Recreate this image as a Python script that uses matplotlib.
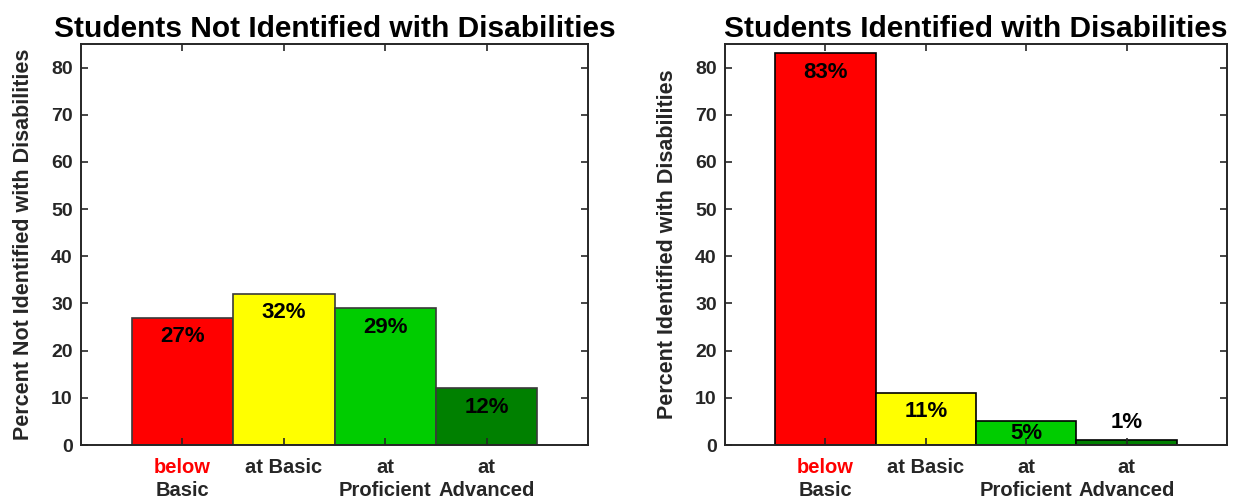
import matplotlib
matplotlib.use("Agg")
import matplotlib.pyplot as plt

plt.rcParams['font.family'] = ['Liberation Sans', 'DejaVu Sans']
plt.rcParams['font.weight'] = 'bold'

# data
categories = ['below Basic', 'at Basic', 'at Proficient', 'at Advanced']
line1 = ['below', 'at Basic', 'at', 'at']
line2 = ['Basic', '', 'Proficient', 'Advanced']
not_disabled = [27, 32, 29, 12]
disabled = [83, 11, 5, 1]
bar_colors = ['#ff0000', '#ffff00', '#00cc00', '#008000']

TXT = '#262626'


def label_y(v):
    # where the percent label sits relative to the bar
    if v >= 10:
        return v - 4
    if v >= 3:
        return v / 2
    return v + 3.7


def draw(ax, values, title, ylabel, edge):
    x = range(1, len(values) + 1)
    ax.bar(x, values, width=1.0, color=bar_colors, edgecolor=edge, linewidth=1.2)
    for xi, v in zip(x, values):
        ax.text(xi, label_y(v), '%d%%' % v, ha='center', va='center',
                fontsize=16, fontweight='bold', color='black')
    ax.set_xlim(0, 5)
    ax.set_ylim(0, 85)
    ax.set_yticks(range(0, 81, 10))
    ax.set_xticks(list(x))
    ax.set_xticklabels([])
    ax.tick_params(direction='in', top=True, right=True, length=5, width=1.2,
                   labelsize=14, colors=TXT, pad=6)
    for lab in ax.get_yticklabels():
        lab.set_fontweight('bold')
    for s in ax.spines.values():
        s.set_linewidth(1.4)
        s.set_color('#262626')
    tr = ax.get_xaxis_transform()
    for i, xi in enumerate(x):
        c = 'red' if i == 0 else TXT
        ax.text(xi, -0.033, line1[i], transform=tr, ha='center', va='top',
                fontsize=14.5, fontweight='bold', color=c)
        ax.text(xi, -0.091, line2[i], transform=tr, ha='center', va='top',
                fontsize=14.5, fontweight='bold', color=TXT)
    ax.set_title(title, fontsize=21.5, fontweight='bold', pad=5)
    ax.set_ylabel(ylabel, fontsize=15.5, fontweight='bold', color=TXT, labelpad=12)


fig = plt.figure(figsize=(12.36, 5), dpi=100)
ax1 = fig.add_axes([81 / 1236, 55 / 500, 507 / 1236, 401 / 500])
ax2 = fig.add_axes([725 / 1236, 55 / 500, 502 / 1236, 401 / 500])

draw(ax1, not_disabled, 'Students Not Identified with Disabilities',
     'Percent Not Identified with Disabilities', '#3a3a3a')
draw(ax2, disabled, 'Students Identified with Disabilities',
     'Percent Identified with Disabilities', 'black')

fig.savefig('out.png', dpi=100)
